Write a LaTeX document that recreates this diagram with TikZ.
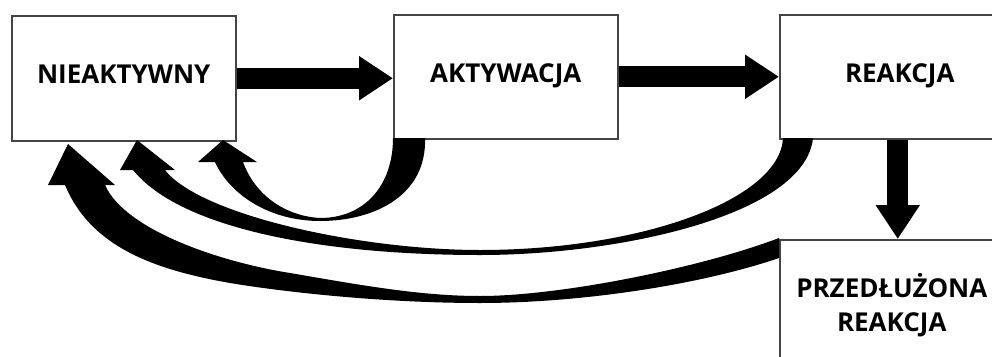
\documentclass[tikz,border=0pt]{standalone}
\usepackage{fontspec}
\setmainfont{Open Sans}
\usetikzlibrary{arrows.meta}
\definecolor{boxgray}{HTML}{444444}
\begin{document}
\begin{tikzpicture}[x=1pt,y=-1pt,
  box/.style={draw=boxgray, line width=1.5pt, fill=white, anchor=north west,
    inner sep=0pt, minimum width=224pt, minimum height=124pt,
    font=\fontsize{26}{34}\selectfont\bfseries, align=center},
  oneline/.style={text depth=8pt},
  straight/.style={line width=21pt, -{Triangle[length=34pt,width=42pt]}},
  curved/.style={fill=black}]
\useasboundingbox (0,0) rectangle (992,356);
\clip (0,0) rectangle (992,356);

\node[box, oneline, minimum height=125pt] (n1) at (11,15) {NIEAKTYWNY};
\node[box, oneline] (n2) at (393,14) {AKTYWACJA};
\node[box, oneline, minimum width=240pt] (n3) at (779,14) {REAKCJA};
\node[box, minimum height=130pt] (n4) at (779,239) {PRZEDŁUŻONA\\REAKCJA};

\draw[straight] (n1.east) -- (n1.east -| n2.west);
\draw[straight] (n2.east) -- (n2.east -| n3.west);
\draw[straight] ([xshift=-2pt]n3.south) -- ([xshift=-2pt]n3.south |- n4.north);

% small loop: AKTYWACJA -> NIEAKTYWNY
\fill[curved] (425,138) .. controls (427,195) and (375,221) .. (320,221)
  .. controls (270,221) and (230,195) .. (215,162)
  -- (198,162) -- (223,140) -- (257,162) -- (243,162)
  .. controls (255,195) and (285,216) .. (320,218)
  .. controls (365,218) and (393,185) .. (393,138) -- cycle;

% REAKCJA -> NIEAKTYWNY
\fill[curved] (813,138) .. controls (805,215) and (620,255) .. (480,255)
  .. controls (320,255) and (180,228) .. (133,170)
  -- (120,170) -- (137,140) -- (175,170) -- (165,170)
  .. controls (200,215) and (360,250) .. (480,250)
  .. controls (640,250) and (780,200) .. (783,138) -- cycle;

% PRZEDLUZONA REAKCJA -> NIEAKTYWNY
\fill[curved] (779,258) .. controls (700,285) and (580,303) .. (480,303)
  .. controls (380,303) and (280,291.4) .. (230,283)
  .. controls (150,269) and (90,245) .. (65,185)
  -- (48,185) -- (68,144) -- (115,185) -- (105,185)
  .. controls (125,230) and (220,262) .. (290,273)
  .. controls (360,285) and (420,296) .. (480,296)
  .. controls (560,296) and (700,268) .. (779,238) -- cycle;
\end{tikzpicture}
\end{document}
